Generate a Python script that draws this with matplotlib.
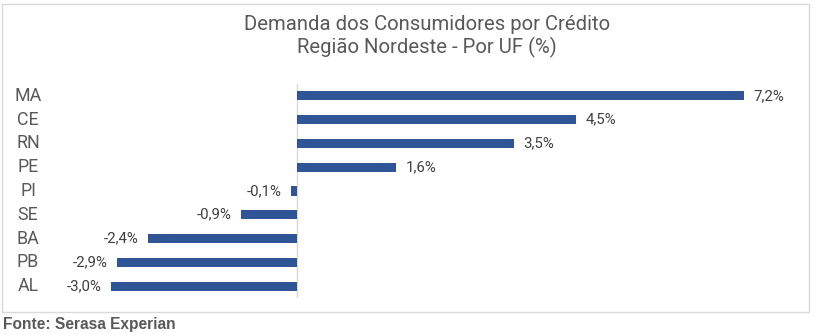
import matplotlib

matplotlib.use("Agg")
import matplotlib.pyplot as plt
from matplotlib.patches import Rectangle
from matplotlib.transforms import blended_transform_factory

# ------------------------------------------------------------
# Data
# ------------------------------------------------------------
ufs = ["MA", "CE", "RN", "PE", "PI", "SE", "BA", "PB", "AL"]
valores = [7.2, 4.5, 3.5, 1.6, -0.1, -0.9, -2.4, -2.9, -3.0]

TITLE = "Demanda dos Consumidores por Crédito\nRegião Nordeste - Por UF (%)"
SOURCE = "Fonte: Serasa Experian"

BAR_COLOR = "#2F5597"
TEXT_COLOR = "#595959"
GRID_COLOR = "#D9D9D9"

plt.rcParams["font.family"] = ["Roboto", "DejaVu Sans"]

fig = plt.figure(figsize=(8.15, 3.34), dpi=100)
W, H = 815, 334

# outer border of chart area
fig.patches.append(
    Rectangle((2 / W, 1 - 312 / H), 807 / W, 308 / H,
              transform=fig.transFigure, fill=False,
              edgecolor=GRID_COLOR, linewidth=1.0)
)

ax = fig.add_axes([100 / W, 1 - 298 / H, 690 / W, 214 / H])

ypos = list(range(len(ufs)))
ax.barh(ypos, valores, height=0.38, color=BAR_COLOR)

# x scale: zero at pixel 297, ~62.1 px per unit
px = 62.1
ax.set_xlim(-(297 - 100) / px, (790 - 297) / px)
ax.set_ylim(len(ufs) - 0.5, -0.5)

ax.axvline(0, color=GRID_COLOR, linewidth=1.0, zorder=0)

for y, v in zip(ypos, valores):
    txt = f"{v:.1f}".replace(".", ",") + "%"
    if v >= 0:
        ax.annotate(txt, (v, y), xytext=(6.5, 0), textcoords="offset points",
                    ha="left", va="center", fontsize=10.8, color="#404040")
    else:
        ax.annotate(txt, (v, y), xytext=(-6.5, 0), textcoords="offset points",
                    ha="right", va="center", fontsize=10.8, color="#404040")

# category labels, centred at a fixed x in the figure
label_tr = blended_transform_factory(fig.transFigure, ax.transData)
for y, uf in zip(ypos, ufs):
    ax.text(28 / W, y, uf, transform=label_tr,
            ha="center", va="center", fontsize=12.8, color=TEXT_COLOR)

ax.set_xticks([])
ax.set_yticks([])
for s in ax.spines.values():
    s.set_visible(False)
ax.patch.set_alpha(0)

fig.text(427 / W, 1 - 36.5 / H, TITLE, ha="center", va="center",
         fontsize=14.6, color=TEXT_COLOR, linespacing=1.2)

fig.text(3 / W, 1 - 325 / H, SOURCE, ha="left", va="center",
         fontsize=11.2, fontweight="bold", color=TEXT_COLOR,
         family=["Liberation Sans", "DejaVu Sans"])

fig.savefig("out.png", dpi=100)
